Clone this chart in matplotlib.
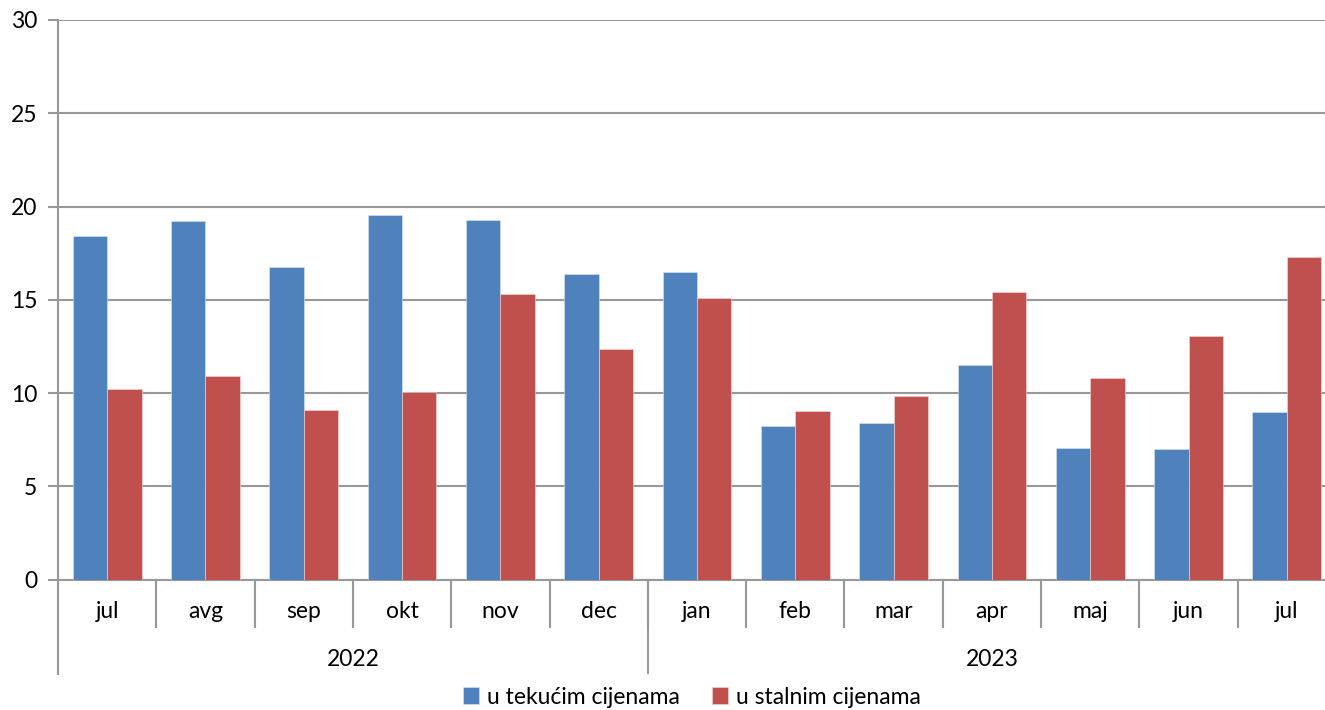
import matplotlib.pyplot as plt
import matplotlib.transforms as mtransforms
import numpy as np

months = ["jul", "avg", "sep", "okt", "nov", "dec", "jan", "feb", "mar", "apr", "maj", "jun", "jul"]
years = ["2022", "2023"]
year_counts = [6, 7]
tekuce = [18.4, 19.2, 16.75, 19.55, 19.3, 16.4, 16.5, 8.25, 8.4, 11.5, 7.05, 7.0, 9.0]
stalne = [10.2, 10.9, 9.1, 10.05, 15.3, 12.35, 15.1, 9.05, 9.85, 15.4, 10.8, 13.05, 17.3]

BLUE = "#4F81BD"
RED = "#C0504D"
GRID = "#989898"
FS = 16.5

plt.rcParams["font.family"] = ["Lato", "DejaVu Sans"]

W, H = 1325, 710
fig = plt.figure(figsize=(W / 100, H / 100), dpi=100)
left, right, top, bottom = 58, 1336, 20, 579.5
ax = fig.add_axes([left / W, (H - bottom) / H, (right - left) / W, (bottom - top) / H])

x = np.arange(len(months))
bw = 0.35
ax.bar(x - bw / 2, tekuce, bw, color=BLUE, edgecolor="#dbe5f1", linewidth=0.4, label="u tekućim cijenama", zorder=3)
ax.bar(x + bw / 2, stalne, bw, color=RED, edgecolor="#f2dcdb", linewidth=0.4, label="u stalnim cijenama", zorder=3)

ax.set_xlim(-0.5, len(months) - 0.5)
ax.set_ylim(0, 30)
ax.set_yticks(range(0, 31, 5))
ax.yaxis.grid(True, color=GRID, linewidth=1.5)
ax.set_axisbelow(True)
ax.tick_params(axis="y", length=7, width=1.5, color=GRID, labelsize=FS, pad=8)
ax.set_xticks([])
for s in ["top", "right"]:
    ax.spines[s].set_visible(False)
for s in ["left", "bottom"]:
    ax.spines[s].set_color(GRID)
    ax.spines[s].set_linewidth(1.5)

# multi-level category axis
trans = mtransforms.blended_transform_factory(ax.transData, ax.transAxes)
px = 1 / (bottom - top)
for i in range(1, len(months)):
    ax.plot([i - 0.5, i - 0.5], [0, -47 * px], transform=trans, color=GRID, lw=1.5, clip_on=False)
for i, m in enumerate(months):
    ax.text(i, -32 * px, m, transform=trans, ha="center", va="center", fontsize=FS)
ax.plot([-0.5, -0.5], [0, -94 * px], transform=trans, color=GRID, lw=1.5, clip_on=False)
start = 0
for yr, n in zip(years, year_counts):
    end = start + n
    if start > 0:
        ax.plot([start - 0.5, start - 0.5], [0, -93 * px], transform=trans, color=GRID, lw=1.5, clip_on=False)
    ax.text((start + end - 1) / 2, -80 * px, yr, transform=trans, ha="center", va="center", fontsize=FS)
    start = end

fig.legend(loc="center", bbox_to_anchor=(692 / W, 1 - 697 / H), ncol=2, frameon=False,
           fontsize=FS, handlelength=0.7, handleheight=0.7, handletextpad=0.35, columnspacing=1.4,
           borderaxespad=0)

fig.savefig("out.png", dpi=100)
